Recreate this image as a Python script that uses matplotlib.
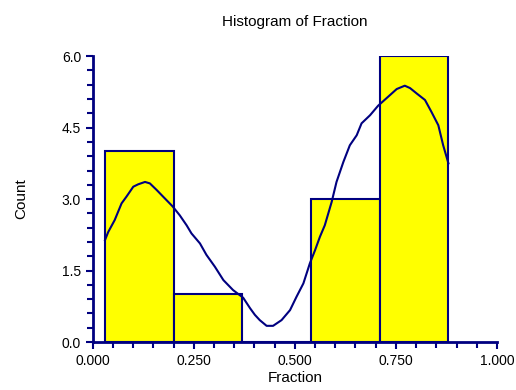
import matplotlib
matplotlib.use('Agg')
import matplotlib.pyplot as plt
from matplotlib.ticker import MultipleLocator, FormatStrFormatter

# histogram bins and counts
bin_edges = [0.030, 0.200, 0.370, 0.540, 0.710, 0.880]
counts = [4, 1, 0, 3, 6]

# density curve (scaled to counts)
curve_x = [0.030, 0.038, 0.054, 0.071, 0.083, 0.100, 0.112, 0.129, 0.141, 0.158,
           0.174, 0.197, 0.215, 0.232, 0.244, 0.265, 0.281, 0.302, 0.323, 0.347,
           0.372, 0.389, 0.401, 0.413, 0.430, 0.446, 0.467, 0.488, 0.504, 0.521,
           0.537, 0.550, 0.562, 0.574, 0.591, 0.603, 0.620, 0.636, 0.653, 0.665,
           0.686, 0.706, 0.731, 0.752, 0.772, 0.785, 0.801, 0.822, 0.838, 0.855,
           0.867, 0.880]
curve_y = [2.14, 2.31, 2.56, 2.91, 3.05, 3.26, 3.31, 3.36, 3.33, 3.19,
           3.05, 2.85, 2.66, 2.45, 2.28, 2.07, 1.83, 1.58, 1.30, 1.09,
           0.93, 0.71, 0.57, 0.46, 0.34, 0.34, 0.46, 0.67, 0.95, 1.23,
           1.65, 1.93, 2.21, 2.45, 2.94, 3.36, 3.78, 4.13, 4.34, 4.59,
           4.76, 4.96, 5.15, 5.31, 5.38, 5.33, 5.22, 5.08, 4.83, 4.55,
           4.13, 3.75]

navy = '#000080'
plt.rcParams['font.family'] = ['Liberation Sans', 'DejaVu Sans']

fig = plt.figure(figsize=(5.16, 3.90), dpi=100)
ax = fig.add_axes([0.180, 0.123, 0.783, 0.733])

lefts = bin_edges[:-1]
widths = [b - a for a, b in zip(bin_edges[:-1], bin_edges[1:])]
ax.bar(lefts, counts, width=widths, align='edge', color='#FFFF00',
       edgecolor=navy, linewidth=1.5, zorder=2)
ax.plot(curve_x, curve_y, color=navy, linewidth=1.5, zorder=3)

ax.set_xlim(0, 1)
ax.set_ylim(0, 6)
ax.xaxis.set_major_locator(MultipleLocator(0.25))
ax.xaxis.set_minor_locator(MultipleLocator(0.05))
ax.yaxis.set_major_locator(MultipleLocator(1.5))
ax.yaxis.set_minor_locator(MultipleLocator(0.3))
ax.xaxis.set_major_formatter(FormatStrFormatter('%.3f'))
ax.yaxis.set_major_formatter(FormatStrFormatter('%.1f'))

for s in ['top', 'right']:
    ax.spines[s].set_visible(False)
for s in ['left', 'bottom']:
    ax.spines[s].set_color(navy)
    ax.spines[s].set_linewidth(2)
ax.tick_params(which='both', color=navy, width=1.5, direction='out', labelsize=10)
ax.tick_params(which='major', length=5)
ax.tick_params(which='minor', length=4)

ax.set_xlabel('Fraction', fontsize=11, labelpad=2)
ax.set_ylabel('Count', fontsize=11, labelpad=24)
ax.set_title('Histogram of Fraction', fontsize=11, pad=22)

fig.savefig('out.png', dpi=100)
